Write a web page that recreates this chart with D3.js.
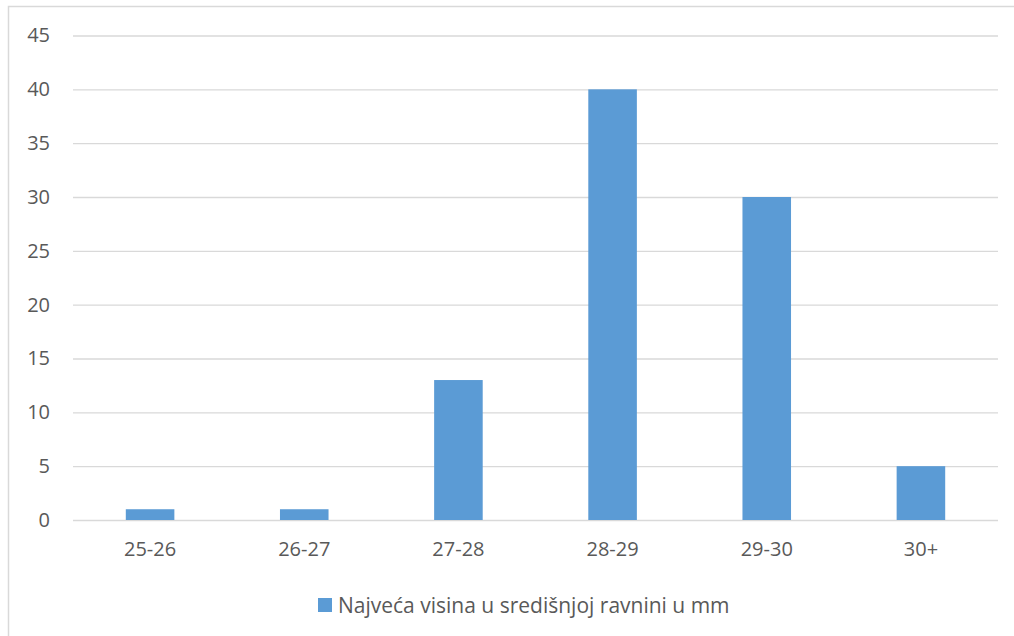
<!DOCTYPE html>
<html>
<head>
<meta charset="utf-8">
<script src="https://cdn.jsdelivr.net/npm/d3@7"></script>
<style>
  body { margin: 0; background: #fff; }
  svg { display: block; }
</style>
</head>
<body>
<script>
// chart data
var categories = ["25-26", "26-27", "27-28", "28-29", "29-30", "30+"];
var values = [1, 1, 13, 40, 30, 5];
var yTicks = [0, 5, 10, 15, 20, 25, 30, 35, 40, 45];
var seriesName = "Najveća visina u središnjoj ravnini u mm";

var svgWidth = 1014;
var svgHeight = 636;

// plot area
var margin = { top: 35.5, right: 16, bottom: 116, left: 73 };
var chartWidth = svgWidth - margin.left - margin.right;
var chartHeight = svgHeight - margin.top - margin.bottom;

var svg = d3.select("body")
    .append("svg")
    .attr("width", svgWidth)
    .attr("height", svgHeight);

// outer chart border (left and top edges visible)
svg.append("rect")
    .attr("x", 8.5)
    .attr("y", 6.5)
    .attr("width", 1020)
    .attr("height", 650)
    .attr("fill", "none")
    .attr("stroke", "#d9d9d9")
    .attr("stroke-width", 1.5);

var chartGroup = svg.append("g")
    .attr("transform", `translate(${margin.left}, ${margin.top})`);

var x = d3.scaleBand()
    .domain(categories)
    .range([0, chartWidth])
    .paddingInner(0.685)
    .paddingOuter(0.3425);

var y = d3.scaleLinear()
    .domain([0, 45])
    .range([chartHeight, 0]);

// gridlines
var grid = chartGroup.append("g")
    .call(d3.axisLeft(y).tickValues(yTicks).tickSize(-chartWidth).tickFormat(""));
grid.select(".domain").remove();
grid.selectAll("line")
    .attr("stroke", "#d9d9d9")
    .attr("stroke-width", 1.3);

// y labels
var yAxis = chartGroup.append("g")
    .call(d3.axisLeft(y).tickValues(yTicks).tickSize(0).tickPadding(23));
yAxis.select(".domain").remove();
yAxis.selectAll("text")
    .attr("font-family", "'Open Sans', sans-serif")
    .attr("font-size", "20px")
    .attr("fill", "#595959");

// bars
chartGroup.selectAll(".bar")
    .data(values)
    .enter()
    .append("rect")
    .attr("class", "bar")
    .attr("x", (d, i) => x(categories[i]))
    .attr("y", d => y(d))
    .attr("width", x.bandwidth())
    .attr("height", d => y(0) - y(d))
    .attr("fill", "#5b9bd5");

// x labels
var xAxis = chartGroup.append("g")
    .attr("transform", `translate(0, ${chartHeight})`)
    .call(d3.axisBottom(x).tickSize(0).tickPadding(22));
xAxis.select(".domain").remove();
xAxis.selectAll("text")
    .attr("font-family", "'Open Sans', sans-serif")
    .attr("font-size", "20px")
    .attr("fill", "#595959");

// legend
var legend = svg.append("g")
    .attr("transform", "translate(318, 598)");
legend.append("rect")
    .attr("width", 14)
    .attr("height", 14)
    .attr("fill", "#5b9bd5");
legend.append("text")
    .attr("x", 20)
    .attr("y", 14.5)
    .attr("font-family", "'Open Sans', sans-serif")
    .attr("font-size", "21px")
    .attr("fill", "#595959")
    .text(seriesName);
</script>
</body>
</html>
